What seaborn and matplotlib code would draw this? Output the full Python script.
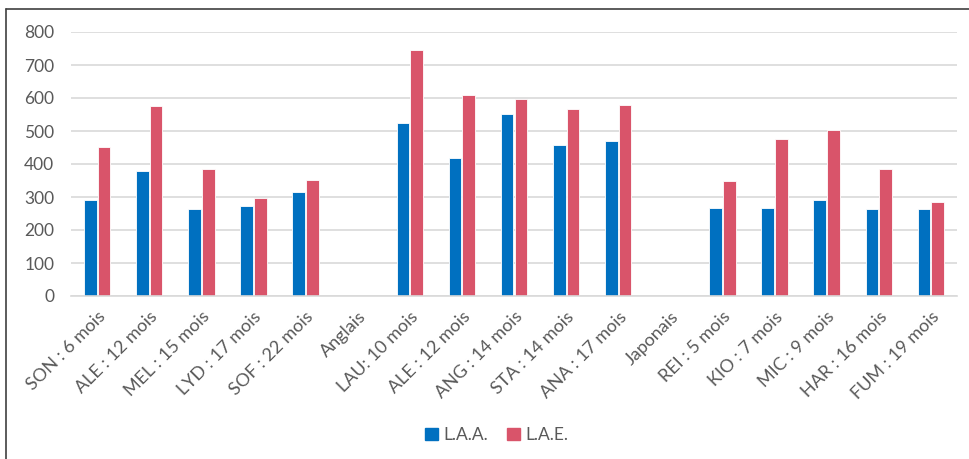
import numpy as np
import pandas as pd
import matplotlib.pyplot as plt
from matplotlib.lines import Line2D
import seaborn as sns

# --- data ---
categories = ['SON : 6 mois', 'ALE : 12 mois', 'MEL : 15 mois', 'LYD : 17 mois',
              'SOF : 22 mois', 'Anglais', 'LAU: 10 mois', 'ALE : 12 mois ',
              'ANG : 14 mois', 'STA : 14 mois', 'ANA : 17 mois', 'Japonais',
              'REI : 5 mois', 'KIO : 7 mois', 'MIC : 9 mois', 'HAR : 16 mois',
              'FUM : 19 mois']
laa = [290, 379, 263, 274, 315, np.nan, 525, 417, 551, 458, 471, np.nan,
       268, 268, 292, 265, 265]
lae = [452, 576, 385, 296, 353, np.nan, 746, 610, 597, 567, 580, np.nan,
       347, 476, 503, 384, 285]
series = ['L.A.A.', 'L.A.E.']
colors = ['#0070C0', '#D9546A']

df = pd.DataFrame({
    'cat': categories * 2,
    'serie': [series[0]] * len(categories) + [series[1]] * len(categories),
    'val': laa + lae,
})

sns.set_style('white')
plt.rcParams['font.family'] = ['Lato', 'DejaVu Sans']

fig = plt.figure(figsize=(9.69, 4.59), dpi=100)
ax = fig.add_axes([71 / 969, 1 - 296 / 459, (957 - 71) / 969, (296 - 32) / 459])

sns.barplot(data=df, x='cat', y='val', hue='serie', order=categories,
            hue_order=series, palette=colors, saturation=1, width=0.53, gap=0.08,
            errorbar=None, edgecolor='white', linewidth=0.6, ax=ax,
            legend=False)

ax.set_ylim(0, 800)
ax.set_yticks(range(0, 801, 100))
ax.set_xlim(-0.5, len(categories) - 0.5)
ax.set_xlabel('')
ax.set_ylabel('')
ax.grid(axis='y', color='#D9D9D9', linewidth=1.2)
ax.set_axisbelow(True)
for s in ['left', 'right', 'top']:
    ax.spines[s].set_visible(False)
ax.spines['bottom'].set_color('#D9D9D9')
ax.spines['bottom'].set_linewidth(1.2)
ax.tick_params(axis='both', length=0, colors='#595959')
ax.tick_params(axis='y', pad=12, labelsize=12.5)
ax.tick_params(axis='x', pad=9, labelsize=13)
ax.set_xticks(range(len(categories)))
ax.set_xticklabels([c.strip() for c in categories], rotation=45, ha='right',
                   rotation_mode='anchor')

# legend at the bottom
handles = [plt.Rectangle((0, 0), 1, 1, color=c) for c in colors]
fig.legend(handles, series, loc='center', bbox_to_anchor=(497 / 969, 1 - 435 / 459),
           ncol=2, frameon=False, fontsize=12.5, handlelength=0.75,
           handleheight=0.75, handletextpad=0.3, columnspacing=1.1,
           labelcolor='#595959')

# screenshot border (top and left)
fig.add_artist(Line2D([6 / 969, 1], [1 - 9 / 459, 1 - 9 / 459], color='#404040', lw=1.2))
fig.add_artist(Line2D([6 / 969, 6 / 969], [0, 1 - 9 / 459], color='#404040', lw=1.2))

fig.savefig('out.png', dpi=100, facecolor='white')
